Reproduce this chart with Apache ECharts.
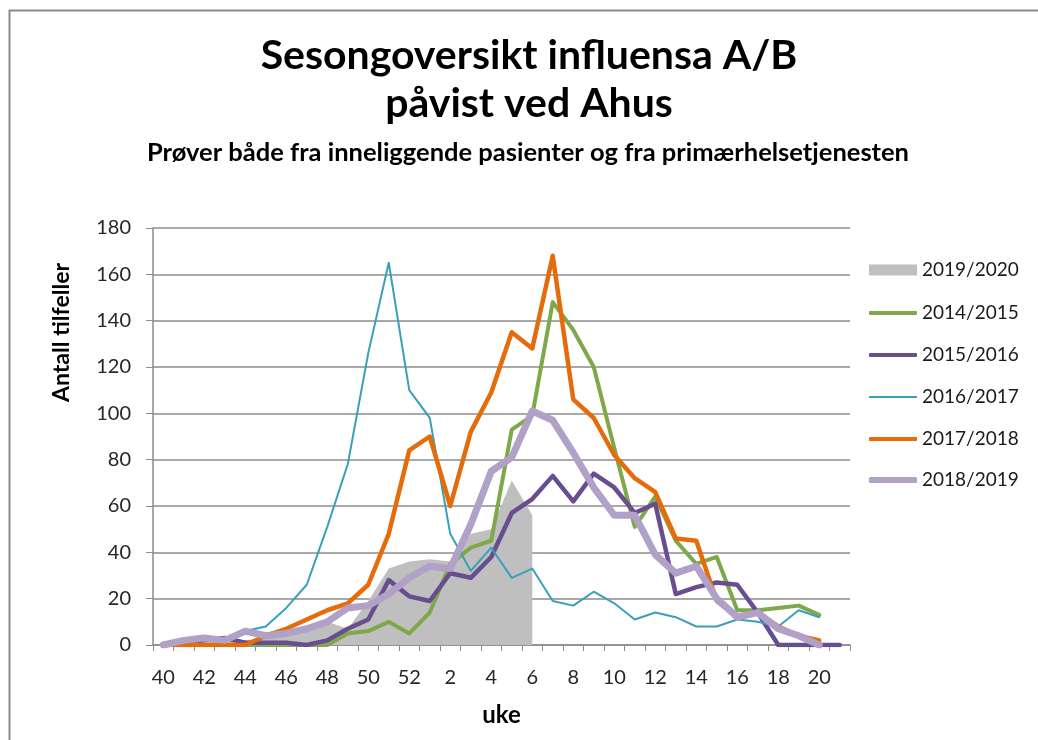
<!DOCTYPE html>
<html>
<head>
<meta charset="utf-8">
<script src="https://cdn.jsdelivr.net/npm/echarts@6/dist/echarts.min.js"></script>
<style>
  html, body { margin: 0; padding: 0; background: #fff; }
  #chart { width: 1038px; height: 740px; }
</style>
</head>
<body>
<div id="chart"></div>
<script>
// Weeks (season runs from week 40 to week 21)
const weeks = ['40','41','42','43','44','45','46','47','48','49','50','51','52',
  '1','2','3','4','5','6','7','8','9','10','11','12','13','14','15','16','17','18','19','20','21'];

const yTicks = { min: 0, max: 180, interval: 20 };

const seasons = ['2019/2020','2014/2015','2015/2016','2016/2017','2017/2018','2018/2019'];

const s2019_2020 = [0,1,1,2,2,3,4,6,10,7,19,33,36,37,36,48,50,71,56];
const s2014_2015 = [0,0,0,0,0,0,0,0,0,5,6,10,5,14,35,42,45,93,99,148,136,120,85,51,64,45,35,38,15,15,16,17,13,null];
const s2015_2016 = [0,1,2,3,1,1,1,0,2,7,11,28,21,19,31,29,38,57,63,73,62,74,68,57,61,22,25,27,26,14,0,0,0,0];
const s2016_2017 = [0,2,3,3,6,8,16,26,51,78,126,165,110,98,48,32,42,29,33,19,17,23,18,11,14,12,8,8,11,10,8,15,12,null];
const s2017_2018 = [0,0,0,0,0,4,7,11,15,18,26,48,84,90,60,92,109,135,128,168,106,98,82,72,66,46,45,19,12,14,8,4,2,null];
const s2018_2019 = [0,2,3,2,6,4,5,7,10,16,17,22,29,34,33,52,75,81,101,97,83,68,56,56,39,31,34,20,12,14,7,4,0,null];

const FONT = 'Lato, "Open Sans", sans-serif';
const colors = ['#bfbfbf', '#7ea84a', '#684e8e', '#3a9fb8', '#e46c0a', '#b1a0c8'];
const widths = [0, 4, 4.5, 2, 4.5, 7];
const legendIconH = [11, 4, 4, 2, 4, 6];
const legendCenters = [270, 313, 355, 397, 439, 480];

function lineSeries(idx, data) {
  return {
    name: seasons[idx], type: 'line', data: data, symbol: 'none', showSymbol: false,
    connectNulls: false,
    lineStyle: { color: colors[idx], width: widths[idx], join: 'round', cap: 'round' },
    itemStyle: { color: colors[idx] },
    emphasis: { disabled: true }
  };
}

const legends = seasons.map(function (name, i) {
  return {
    orient: 'vertical', left: 869, top: legendCenters[i] - 9.5, padding: 0,
    itemWidth: 48, itemHeight: legendIconH[i],
    textStyle: { fontFamily: FONT, fontSize: 19, color: '#1a1a1a' },
    data: [{ name: name, icon: i === 0 ? 'rect' : 'roundRect', itemStyle: { color: colors[i] } }]
  };
});

const chart = echarts.init(document.getElementById('chart'));
chart.setOption({
  backgroundColor: '#ffffff',
  animation: false,
  graphic: [{
    type: 'rect', left: 7, top: 8,
    shape: { width: 1100, height: 800 },
    style: { fill: 'none', stroke: '#8c8c8c', lineWidth: 2 },
    silent: true
  }],
  title: [{
    text: 'Sesongoversikt influensa A/B\npåvist ved Ahus',
    left: 524, top: 27, textAlign: 'center',
    textStyle: { fontFamily: FONT, fontSize: 41, fontWeight: 'bold', color: '#000', lineHeight: 48 }
  }, {
    text: 'Prøver både fra inneliggende pasienter og fra primærhelsetjenesten',
    left: 523, top: 135, textAlign: 'center',
    textStyle: { fontFamily: FONT, fontSize: 25.5, fontWeight: 'bold', color: '#000' }
  }],
  legend: legends,
  grid: { left: 153, right: 188, top: 228, bottom: 95, containLabel: false },
  xAxis: {
    type: 'category', data: weeks, boundaryGap: true,
    name: 'uke', nameLocation: 'middle', nameGap: 58,
    nameTextStyle: { fontFamily: FONT, fontSize: 24, fontWeight: 'bold', color: '#000' },
    axisLine: { show: true, lineStyle: { color: '#8c8c8c', width: 1.5 } },
    axisTick: { show: true, interval: 0, length: 6, lineStyle: { color: '#8c8c8c' } },
    axisLabel: { interval: 1, margin: 23, fontFamily: FONT, fontSize: 20, color: '#262626' },
    splitLine: { show: false }
  },
  yAxis: {
    type: 'value', min: yTicks.min, max: yTicks.max, interval: yTicks.interval,
    name: 'Antall tilfeller', nameLocation: 'middle', nameRotate: 90, nameGap: 80,
    nameTextStyle: { fontFamily: FONT, fontSize: 23, fontWeight: 'bold', color: '#000', padding: [0, 0, 0, 208] },
    axisLine: { show: true, lineStyle: { color: '#8c8c8c', width: 1.5 } },
    axisTick: { show: true, length: 7, lineStyle: { color: '#8c8c8c' } },
    axisLabel: { margin: 22, fontFamily: FONT, fontSize: 20, color: '#262626' },
    splitLine: { show: true, lineStyle: { color: '#8c8c8c', width: 1.5 } }
  },
  series: [
    {
      name: seasons[0], type: 'line', data: s2019_2020, symbol: 'none', showSymbol: false,
      lineStyle: { width: 0, color: colors[0] },
      itemStyle: { color: colors[0] },
      areaStyle: { color: colors[0], opacity: 1 },
      emphasis: { disabled: true }
    },
    lineSeries(1, s2014_2015),
    lineSeries(2, s2015_2016),
    lineSeries(3, s2016_2017),
    lineSeries(4, s2017_2018),
    lineSeries(5, s2018_2019)
  ]
});
</script>
</body>
</html>
